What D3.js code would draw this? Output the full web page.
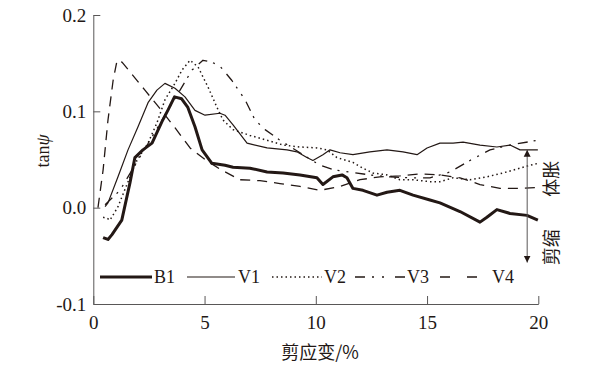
<!DOCTYPE html>
<html>
<head>
<meta charset="utf-8">
<title>tan psi vs shear strain</title>
<script src="https://d3js.org/d3.v7.min.js"></script>
<style>
    body { margin: 0; background: #fff; }
    svg { display: block; }
    .axis path, .axis line { stroke: #595757; stroke-width: 1; fill: none; }
    .axis text { font-family: "Liberation Serif", "Times New Roman", serif; font-size: 19px; fill: #231815; }
    .curve { fill: none; stroke: #231815; stroke-linejoin: round; }
    .legend text { font-family: "Liberation Serif", "Times New Roman", serif; font-size: 18px; fill: #231815; }
    .cjk { font-family: "Noto Sans CJK SC", sans-serif; font-size: 18px; fill: #231815; }
</style>
</head>
<body>
<div id="chart"></div>
<script>

    // tick values
    var xTicks = [0, 5, 10, 15, 20];
    var yTicks = [-0.1, 0.0, 0.1, 0.2];
    var seriesNames = ["B1", "V1", "V2", "V3", "V4"];

    // [shear strain %, tan psi]
    var b1 = [[0.44,-0.031],[0.66,-0.033],[0.84,-0.028],[1.28,-0.013],[1.65,0.026],[1.87,0.052],[2.23,0.060],
        [2.64,0.067],[3.08,0.089],[3.35,0.101],[3.65,0.115],[3.97,0.113],[4.25,0.104],[4.57,0.084],[4.89,0.060],
        [5.33,0.046],[5.92,0.044],[6.28,0.042],[7.04,0.041],[7.81,0.037],[8.53,0.036],[9.29,0.034],[10.05,0.031],
        [10.32,0.024],[10.77,0.032],[11.18,0.034],[11.40,0.031],[11.67,0.020],[12.12,0.018],[12.75,0.013],
        [13.20,0.016],[13.78,0.018],[14.37,0.013],[15.13,0.008],[15.58,0.005],[16.48,-0.004],[17.38,-0.015],
        [17.69,-0.010],[18.14,-0.002],[18.73,-0.006],[19.49,-0.008],[19.98,-0.013]];

    var v1 = [[0.53,0.001],[0.66,0.005],[1.11,0.032],[1.56,0.060],[2.01,0.084],[2.46,0.109],[2.86,0.122],
        [3.22,0.129],[3.67,0.124],[4.12,0.115],[4.57,0.101],[5.02,0.096],[5.69,0.098],[5.92,0.096],[6.28,0.086],
        [6.91,0.067],[7.81,0.062],[8.71,0.060],[9.15,0.058],[9.60,0.052],[9.87,0.049],[10.32,0.055],[10.64,0.060],
        [11.09,0.057],[11.67,0.055],[12.43,0.058],[13.20,0.060],[13.92,0.058],[14.55,0.055],[15.00,0.062],
        [15.58,0.067],[16.17,0.067],[16.62,0.068],[17.38,0.065],[18.14,0.063],[18.73,0.065],[19.18,0.060],[19.98,0.060]];

    var v2 = [[0.44,-0.010],[0.62,-0.011],[0.75,-0.013],[1.11,0.001],[1.51,0.024],[1.96,0.049],[2.46,0.067],
        [2.86,0.088],[3.22,0.112],[3.67,0.129],[3.99,0.143],[4.35,0.153],[4.71,0.146],[5.16,0.125],[5.56,0.104],
        [5.83,0.091],[6.28,0.081],[7.04,0.075],[7.81,0.070],[8.53,0.065],[9.29,0.063],[10.05,0.062],[10.50,0.060],
        [10.95,0.052],[11.67,0.047],[12.12,0.041],[12.57,0.036],[13.20,0.034],[13.78,0.029],[14.37,0.029],
        [15.13,0.027],[15.58,0.027],[16.17,0.031],[16.93,0.029],[17.69,0.032],[18.41,0.036],[19.18,0.041],
        [19.63,0.044],[19.98,0.046]];

    var v3 = [[0.53,0.003],[1.20,0.018],[1.87,0.044],[2.55,0.070],[3.22,0.096],[3.90,0.122],[4.44,0.143],
        [4.93,0.153],[5.33,0.151],[5.69,0.147],[6.23,0.132],[6.82,0.112],[7.27,0.091],[7.72,0.081],[8.39,0.070],
        [9.29,0.057],[10.19,0.044],[10.86,0.039],[11.54,0.037],[12.43,0.034],[13.33,0.032],[14.23,0.031],
        [15.13,0.031],[16.03,0.037],[16.93,0.049],[17.83,0.060],[18.73,0.065],[19.98,0.070]];

    var v4 = [[0.21,0.000],[0.44,0.039],[0.66,0.091],[0.89,0.132],[1.07,0.153],[1.29,0.151],[1.65,0.141],
        [2.32,0.122],[2.99,0.103],[3.67,0.083],[4.35,0.062],[5.02,0.050],[5.69,0.040],[6.59,0.029],[7.49,0.028],
        [8.39,0.025],[9.29,0.022],[10.19,0.018],[11.09,0.022],[11.99,0.029],[12.88,0.032],[13.78,0.033],
        [14.68,0.035],[15.58,0.034],[16.48,0.031],[17.38,0.024],[18.28,0.020],[19.18,0.020],[19.98,0.021]];

    var allSeries = [b1, v1, v2, v3, v4];

    // line styles for each series
    var styles = [
        { width: 3, dash: null, legendDash: null },
        { width: 1.2, dash: null, legendDash: null },
        { width: 1.5, dash: "1.5,3", legendDash: "1.5,3" },
        { width: 1.3, dash: "10,6,2,7,2,7", legendDash: "10,7,2,8,2,11" },
        { width: 1.3, dash: "10,7", legendDash: "10,17" }
    ];

    var W = 605, H = 386;
    var svg = d3.select("#chart").append("svg")
        .attr("width", W)
        .attr("height", H);

    var x = d3.scaleLinear().domain([0, 20]).range([93.3, 538.3]);
    var y = d3.scaleLinear().domain([-0.1, 0.2]).range([304, 15]);

    //Axes with ticks pointing inward
    svg.append("g")
        .attr("class", "axis")
        .attr("transform", "translate(0," + y(-0.1) + ")")
        .call(d3.axisBottom(x).tickValues(xTicks).tickSizeInner(-8).tickSizeOuter(0).tickPadding(12)
            .tickFormat(d3.format("d")));

    svg.append("g")
        .attr("class", "axis")
        .attr("transform", "translate(" + x(0) + ",0)")
        .call(d3.axisLeft(y).tickValues(yTicks).tickSizeInner(-7).tickSizeOuter(0).tickPadding(7)
            .tickFormat(function(d) { return d3.format(".1f")(d).replace("−", "-"); }));

    //Curves
    var line = d3.line()
        .x(function(d) { return x(d[0]); })
        .y(function(d) { return y(d[1]); });

    svg.append("g").selectAll("path")
        .data(allSeries)
        .enter().append("path")
        .attr("class", "curve")
        .attr("d", line)
        .attr("stroke-width", function(d, i) { return styles[i].width; })
        .attr("stroke-dasharray", function(d, i) { return styles[i].dash; });

    //Legend
    var legendPos = [[100, 152, 154], [187, 235, 238], [272, 322, 324], [355, 407, 407], [440, 490, 492]];
    var legendY = 277;
    var legend = svg.append("g").attr("class", "legend");
    var lg = legend.selectAll("g")
        .data(seriesNames)
        .enter().append("g");

    lg.append("line")
        .attr("x1", function(d, i) { return legendPos[i][0]; })
        .attr("x2", function(d, i) { return legendPos[i][1]; })
        .attr("y1", legendY)
        .attr("y2", legendY)
        .attr("stroke", "#231815")
        .attr("stroke-width", function(d, i) { return styles[i].width; })
        .attr("stroke-dasharray", function(d, i) { return styles[i].legendDash; });

    lg.append("text")
        .attr("x", function(d, i) { return legendPos[i][2]; })
        .attr("y", legendY + 6)
        .text(function(d) { return d; });

    //Axis titles
    svg.append("text")
        .attr("class", "cjk")
        .attr("x", 320)
        .attr("y", 359)
        .attr("text-anchor", "middle")
        .text("剪应变/%");

    svg.append("text")
        .attr("transform", "translate(49,151) rotate(-90)")
        .attr("text-anchor", "middle")
        .style("font-family", "'Liberation Serif', serif")
        .style("font-size", "18px")
        .style("fill", "#231815")
        .html("tan<tspan font-style='italic'>ψ</tspan>");

    //Dilation / contraction arrow
    var ax = x(19.5);
    svg.append("defs").append("marker")
        .attr("id", "head")
        .attr("viewBox", "0 0 10 10")
        .attr("refX", 10).attr("refY", 5)
        .attr("markerWidth", 7).attr("markerHeight", 9)
        .attr("markerUnits", "userSpaceOnUse")
        .attr("orient", "auto-start-reverse")
        .append("path").attr("d", "M0,0L10,5L0,10z").attr("fill", "#231815");

    svg.append("line")
        .attr("x1", ax).attr("x2", ax)
        .attr("y1", y(0.06)).attr("y2", y(-0.057))
        .attr("stroke", "#595757")
        .attr("stroke-width", 1)
        .attr("marker-start", "url(#head)")
        .attr("marker-end", "url(#head)");

    svg.append("text")
        .attr("class", "cjk")
        .attr("transform", "translate(558," + y(0.03) + ") rotate(-90)")
        .attr("text-anchor", "middle")
        .text("体胀");

    svg.append("text")
        .attr("class", "cjk")
        .attr("transform", "translate(558," + y(-0.041) + ") rotate(-90)")
        .attr("text-anchor", "middle")
        .text("剪缩");

</script>
</body>
</html>
